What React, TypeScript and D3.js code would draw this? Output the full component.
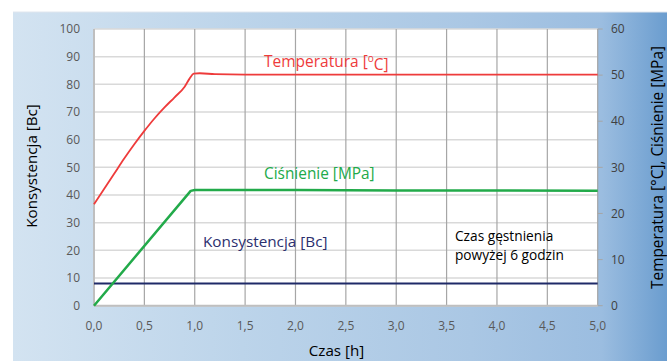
import React from "react";
import * as d3 from "d3";

// Time axis [h]
const xTicks = [0, 0.5, 1, 1.5, 2, 2.5, 3, 3.5, 4, 4.5, 5];
const leftTicks = [0, 10, 20, 30, 40, 50, 60, 70, 80, 90, 100];
const rightTicks = [0, 10, 20, 30, 40, 50, 60];

// Temperature [°C] (right axis)
const tempTime = [0, 0.1, 0.2, 0.3, 0.4, 0.5, 0.6, 0.7, 0.8, 0.9, 0.95, 0.99, 1.05, 1.2, 1.5, 2, 3, 4, 5];
const tempValue = [22, 25.3, 28.6, 31.9, 35.0, 37.9, 40.6, 43.0, 45.2, 47.5, 49.3, 50.3, 50.4, 50.2, 50.1, 50.1, 50.1, 50.1, 50.1];

// Pressure [MPa] (right axis)
const presTime = [0, 0.96, 1.0, 1.5, 2, 3, 4, 5];
const presValue = [0, 24.9, 25.1, 25.1, 25.1, 25.0, 25.0, 24.9];

// Consistency [Bc] (left axis)
const consTime = [0, 5];
const consValue = [8, 8];

const W = 667;
const H = 361;
const M = { left: 94, right: 597.7, top: 29, bottom: 305.7 };

const fmt = (v: number) => v.toFixed(1).replace(".", ",");

export default function App() {
  const x = d3.scaleLinear().domain([0, 5]).range([M.left, M.right]);
  const yL = d3.scaleLinear().domain([0, 100]).range([M.bottom, M.top]);
  const yR = d3.scaleLinear().domain([0, 60]).range([M.bottom, M.top]);

  const smoothR = d3
    .line<[number, number]>()
    .x((d) => x(d[0]))
    .y((d) => yR(d[1]))
    .curve(d3.curveMonotoneX);
  const straightR = d3
    .line<[number, number]>()
    .x((d) => x(d[0]))
    .y((d) => yR(d[1]));
  const straightL = d3
    .line<[number, number]>()
    .x((d) => x(d[0]))
    .y((d) => yL(d[1]));

  const tempPts = tempTime.map((t, i) => [t, tempValue[i]] as [number, number]);
  const presPts = presTime.map((t, i) => [t, presValue[i]] as [number, number]);
  const consPts = consTime.map((t, i) => [t, consValue[i]] as [number, number]);

  const font = "'Open Sans', 'Noto Sans', sans-serif";

  return (
    <svg
      width={W}
      height={H}
      style={{ position: "absolute", left: 0, top: 0, display: "block" }}
      fontFamily={font}
    >
      <defs>
        <linearGradient id="bg" x1="0" y1="0" x2="1" y2="0">
          <stop offset="0" stopColor="#d3e3f1" />
          <stop offset="0.35" stopColor="#bcd4ea" />
          <stop offset="0.7" stopColor="#aac7e4" />
          <stop offset="0.9" stopColor="#9bbde0" />
          <stop offset="1" stopColor="#6b9dcf" />
        </linearGradient>
      </defs>
      <rect x={0} y={0} width={W} height={H} fill="#ffffff" />
      <rect x={13} y={12} width={W - 13} height={H - 12} fill="url(#bg)" />
      <line x1={13} x2={W} y1={12} y2={12} stroke="#e0e6ee" strokeWidth={1} />

      {/* plot area */}
      <rect
        x={M.left}
        y={M.top}
        width={M.right - M.left}
        height={M.bottom - M.top}
        fill="#ffffff"
      />
      {leftTicks.map((v) => (
        <line
          key={"h" + v}
          x1={M.left}
          x2={M.right}
          y1={yL(v)}
          y2={yL(v)}
          stroke="#d9d9d9"
          strokeWidth={1.5}
        />
      ))}
      {xTicks.slice(1).map((v) => (
        <line
          key={"v" + v}
          x1={x(v)}
          x2={x(v)}
          y1={M.top}
          y2={M.bottom}
          stroke="#a6a6a6"
          strokeWidth={1.2}
        />
      ))}
      {/* axis lines */}
      <line x1={M.left} x2={M.left} y1={M.top} y2={M.bottom} stroke="#bfbfbf" strokeWidth={2} />
      <line x1={M.left} x2={M.right} y1={M.bottom} y2={M.bottom} stroke="#bfbfbf" strokeWidth={2} />
      {rightTicks.map((v) => (
        <line
          key={"rt" + v}
          x1={M.right}
          x2={M.right + 5}
          y1={yR(v)}
          y2={yR(v)}
          stroke="#a6a6a6"
          strokeWidth={1}
        />
      ))}

      {/* series */}
      <path d={straightL(consPts) || ""} fill="none" stroke="#1f2a68" strokeWidth={2} />
      <path d={straightR(presPts) || ""} fill="none" stroke="#22aa4a" strokeWidth={2.5} strokeLinejoin="round" />
      <path d={smoothR(tempPts) || ""} fill="none" stroke="#ee3b3b" strokeWidth={1.8} />

      {/* tick labels */}
      {leftTicks.map((v) => (
        <text
          key={"lt" + v}
          x={80}
          y={yL(v)}
          dy="0.35em"
          textAnchor="end"
          fontSize={12}
          fill="#595959"
        >
          {v}
        </text>
      ))}
      {rightTicks.map((v) => (
        <text
          key={"rl" + v}
          x={611}
          y={yR(v)}
          dy="0.35em"
          textAnchor="start"
          fontSize={12}
          fill="#404040"
        >
          {v}
        </text>
      ))}
      {xTicks.map((v) => (
        <text
          key={"xl" + v}
          x={x(v)}
          y={326}
          dy="0.35em"
          textAnchor="middle"
          fontSize={12}
          fill="#595959"
        >
          {fmt(v)}
        </text>
      ))}

      {/* axis titles */}
      <text x={336.5} y={356} textAnchor="middle" fontSize={15.2} fill="#000">
        Czas [h]
      </text>
      <text
        transform="translate(37,166) rotate(-90)"
        textAnchor="middle"
        fontSize={15.2}
        fill="#000"
      >
        Konsystencja [Bc]
      </text>
      <text
        transform="translate(663,167.5) rotate(-90)"
        textAnchor="middle"
        fontSize={15.4}
        fill="#000"
      >
        Temperatura [°C], Ciśnienie [MPa]
      </text>

      {/* series labels */}
      <text x={264} y={67} fontSize={15.5} fill="#ee3b3b">
        Temperatura [<tspan fontSize={10} dy="-0.55em">o</tspan>
        <tspan dy="0.55em">C]</tspan>
      </text>
      <text x={264} y={179} fontSize={15.4} fill="#22aa4a">
        Ciśnienie [MPa]
      </text>
      <text x={203} y={246.5} fontSize={15.3} fill="#2b2f6e">
        Konsystencja [Bc]
      </text>
      <text x={455} y={240.5} fontSize={13.7} fill="#000">
        Czas gęstnienia
      </text>
      <text x={455} y={260} fontSize={13.7} fill="#000">
        powyżej 6 godzin
      </text>
    </svg>
  );
}
